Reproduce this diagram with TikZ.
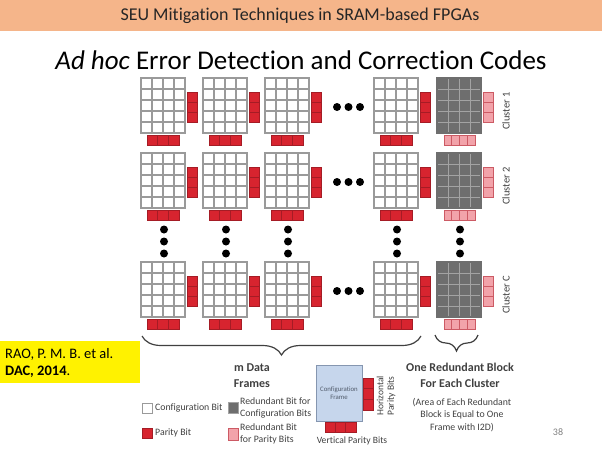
\documentclass[tikz,border=0pt]{standalone}
\usepackage{fontspec}
\setmainfont{Carlito}[Ligatures={NoCommon}]
\usetikzlibrary{decorations.pathreplacing}
\definecolor{titlebg}{HTML}{F5B58A}
\definecolor{gridgray}{HTML}{9A9A9A}
\definecolor{darkcell}{HTML}{6E6E6E}
\definecolor{darkline}{HTML}{A3A3A3}
\definecolor{parred}{HTML}{D7242F}
\definecolor{parredbd}{HTML}{A51C25}
\definecolor{pinkfill}{HTML}{F2A3AA}
\definecolor{pinkbd}{HTML}{CC5A64}
\definecolor{framefill}{HTML}{C6D6EC}
\definecolor{framebdc}{HTML}{8596B0}
\definecolor{txtgray}{HTML}{404040}
\begin{document}
\begin{tikzpicture}[x=1pt,y=-1pt,
  cellw/.style={draw=gridgray,line width=1.2pt,fill=white},
  celld/.style={draw=darkline,line width=0.8pt,fill=darkcell},
  framebd/.style={draw=gridgray,line width=1.6pt},
  framebdd/.style={draw=darkcell,line width=1.2pt},
  parcell/.style={draw=parredbd,line width=0.6pt,fill=parred},
  pinkcell/.style={draw=pinkbd,line width=0.6pt,fill=pinkfill},
  dotc/.style={fill=black},
  bracestyle/.style={draw=txtgray,line width=1.2pt,decorate},
  lgd/.style={font=\fontsize{9.8}{11.5}\selectfont,text=txtgray,align=left,anchor=west,inner sep=0pt},
  boldlbl/.style={font=\fontsize{12}{16}\selectfont\bfseries,text=txtgray,align=center},
  clusterlbl/.style={font=\fontsize{10.5}{12}\selectfont,text=txtgray,rotate=90},
  dataframe/.pic={
    \foreach \i in {0,...,3}{\foreach \j in {0,...,4}{\draw[cellw] (\i*11,\j*11) rectangle ++(11,11);}}
    \draw[framebd] (0,0) rectangle (44,55);
    \foreach \j in {0,1,2}{\draw[parcell] (46,14+\j*10) rectangle ++(10,10);}
    \foreach \i in {0,1,2}{\draw[parcell] (6+\i*10.7,57) rectangle ++(10.7,10);}
  },
  redframe/.pic={
    \foreach \i in {0,...,3}{\foreach \j in {0,...,4}{\draw[celld] (\i*11,\j*11) rectangle ++(11,11);}}
    \draw[framebdd] (0,0) rectangle (44,55);
    \foreach \j in {0,1,2}{\draw[pinkcell] (46,14+\j*10) rectangle ++(10,10);}
    \foreach \i in {0,...,3}{\draw[pinkcell] (7+\i*7.75,57) rectangle ++(7.75,10);}
  }
]
\useasboundingbox (0,0) rectangle (602,452);
% title bar
\fill[titlebg] (0,0) rectangle (602,31);
\node[font=\fontsize{18}{21}\selectfont,text=black!85] (title) at (300,16) {SEU Mitigation Techniques in SRAM-based FPGAs};
\node[font=\fontsize{27}{31}\selectfont] (subtitle) at (301,60) {\textit{Ad hoc} Error Detection and Correction Codes};
% frames
\foreach \ty in {78,153,262}{
  \foreach \cx in {141,203,265,374}{\pic at (\cx,\ty) {dataframe};}
  \pic at (437,\ty) {redframe};
  \foreach \dx in {337,348.5,360}{\fill[dotc] (\dx,\ty+29) circle (4);}
}
\foreach \cx in {164,226,288,397,460}{
  \foreach \dy in {229.5,241.5,253.5}{\fill[dotc] (\cx,\dy) circle (4);}
}
% cluster labels
\node[clusterlbl] (cl1) at (506,111) {Cluster 1};
\node[clusterlbl] (cl2) at (506,186) {Cluster 2};
\node[clusterlbl] (cl3) at (506,295) {Cluster C};
% braces
\coordinate (bra) at (142,336);
\coordinate (brb) at (421,336);
\draw[bracestyle,decoration={brace,mirror,amplitude=19pt}] (bra) -- (brb);
\coordinate (brc) at (435,335);
\coordinate (brd) at (478,335);
\draw[bracestyle,decoration={brace,mirror,amplitude=16pt}] (brc) -- (brd);
\node[boldlbl] (mdata) at (252,376) {m Data\\Frames};
\node[boldlbl] (oneblk) at (460,375) {One Redundant Block\\For Each Cluster};
\node[font=\fontsize{9.8}{12.5}\selectfont,text=txtgray,align=center] (area) at (462,415) {(Area of Each Redundant\\Block is Equal to One\\Frame with I2D)};
% legend
\draw[draw=gridgray,line width=0.8pt,fill=white] (142,403) rectangle (152,413);
\node[lgd] (lg1) at (155,408) {Configuration Bit};
\draw[draw=darkline,line width=0.6pt,fill=darkcell] (228,402) rectangle (238,413);
\node[lgd] (lg2) at (240,408) {Redundant Bit for\\Configuration Bits};
\draw[parcell] (142,428) rectangle (152,438);
\node[lgd] (lg3) at (155,433) {Parity Bit};
\draw[pinkcell] (228,428) rectangle (238,440);
\node[lgd] (lg4) at (240,434) {Redundant Bit\\for Parity Bits};
% configuration frame illustration
\node[draw=framebdc,fill=framefill,line width=0.8pt,minimum width=46pt,minimum height=56pt,inner sep=0pt,
      font=\fontsize{6.8}{8}\selectfont,text=framebdc!60!black,align=center] (cfg) at (339,393) {Configuration\\Frame};
\foreach \j in {0,1,2}{\draw[parcell] (363,378+\j*10.7) rectangle ++(10,10.7);}
\foreach \i in {0,1,2}{\draw[parcell] (325+\i*10.3,422) rectangle ++(10.3,10);}
\node[font=\fontsize{9.5}{10.5}\selectfont,text=txtgray,rotate=90,align=center] (hpb) at (386,396) {Horizontal\\Parity Bits};
\node[font=\fontsize{9.6}{11}\selectfont,text=txtgray] (vpb) at (352,441) {Vertical Parity Bits};
% reference box
\fill[yellow] (0,341) rectangle (140,383);
\node[font=\fontsize{14.5}{17}\selectfont,anchor=west,align=left,inner sep=0pt] (ref) at (5,362.5) {RAO, P. M. B. et al.\\\textbf{DAC, 2014}.};
\node[font=\fontsize{10}{12}\selectfont,text=gray] (pg) at (558,432) {38};
\end{tikzpicture}
\end{document}
